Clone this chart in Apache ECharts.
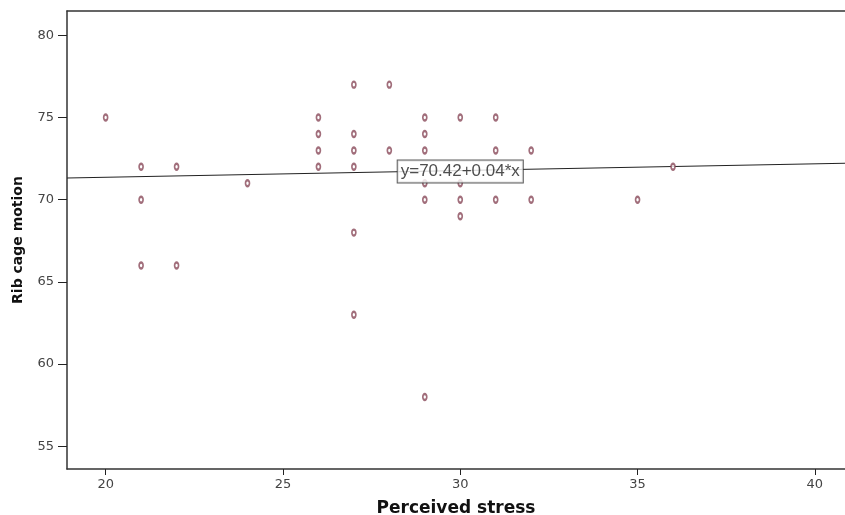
<!DOCTYPE html>
<html>
<head>
<meta charset="utf-8">
<script src="https://cdn.jsdelivr.net/npm/echarts@6/dist/echarts.min.js"></script>
<style>
  html, body { margin: 0; padding: 0; background: #fff; }
  #main { width: 845px; height: 515px; }
</style>
</head>
<body>
<div id="main"></div>
<script>
// data
var stress = [20, 21, 22, 24, 21, 21, 22,
  27, 28,
  26, 29, 30, 31,
  26, 27, 29,
  26, 27, 28, 29, 31, 32,
  26, 27,
  29, 30,
  29, 30, 31, 32,
  30,
  27, 27, 29, 35, 36];
var ribCage = [75, 72, 72, 71, 70, 66, 66,
  77, 77,
  75, 75, 75, 75,
  74, 74, 74,
  73, 73, 73, 73, 73, 73,
  72, 72,
  71, 71,
  70, 70, 70, 70,
  69,
  68, 63, 58, 70, 72];

// fit line, read at left edge and right edge, plus where its label sits
var fitX = [18.91, 40.85];
var fitY = [71.32, 72.22];
var labelAt = [30, 71.72];
var fitLabel = 'y=70.42+0.04*x';

var xTicks = [20, 25, 30, 35, 40];
var yTicks = [55, 60, 65, 70, 75, 80];

var points = [];
for (var i = 0; i < stress.length; i++) {
  points.push([stress[i], ribCage[i]]);
}
var fitData = [];
for (var j = 0; j < fitX.length; j++) {
  fitData.push([fitX[j], fitY[j]]);
}

var chart = echarts.init(document.getElementById('main'));

var option = {
  animation: false,
  backgroundColor: '#fff',
  grid: { left: 67, right: 0, top: 11, bottom: 46, containLabel: false, outerBoundsMode: 'none' },
  xAxis: [{
    type: 'value',
    min: 18.91,
    max: 40.85,
    name: 'Perceived stress',
    nameLocation: 'middle',
    nameGap: 31,
    nameTextStyle: { fontFamily: 'DejaVu Sans', fontWeight: 'bold', fontSize: 17, color: '#111' },
    splitLine: { show: false },
    axisLine: { lineStyle: { color: '#333', width: 1.5 } },
    axisTick: { customValues: xTicks, length: 6, lineStyle: { color: '#222' } },
    axisLabel: { customValues: xTicks, margin: 9, fontFamily: 'DejaVu Sans', fontSize: 13, color: '#444' }
  }, {
    // top frame line
    type: 'value',
    position: 'top',
    min: 18.91,
    max: 40.85,
    splitLine: { show: false },
    axisLine: { show: true, lineStyle: { color: '#333', width: 1.5 } },
    axisTick: { show: false },
    axisLabel: { show: false }
  }],
  yAxis: {
    type: 'value',
    min: 53.62,
    max: 81.48,
    name: 'Rib cage motion',
    nameLocation: 'middle',
    nameGap: 42,
    nameTextStyle: { fontFamily: 'DejaVu Sans', fontWeight: 'bold', fontSize: 14, color: '#111' },
    splitLine: { show: false },
    axisLine: { show: true, lineStyle: { color: '#333', width: 1.5 } },
    axisTick: { show: true, customValues: yTicks, length: 9, lineStyle: { color: '#222' } },
    axisLabel: { customValues: yTicks, margin: 13, fontFamily: 'DejaVu Sans', fontSize: 13, color: '#444' }
  },
  series: [{
    type: 'line',
    data: fitData,
    symbol: 'none',
    lineStyle: { color: '#222', width: 1.2 },
    z: 2
  }, {
    type: 'scatter',
    data: points,
    symbol: 'emptyCircle',
    symbolSize: [4, 6],
    itemStyle: { color: '#8a4a5a', borderWidth: 1 },
    z: 3
  }, {
    // equation box on the line
    type: 'scatter',
    data: [labelAt],
    symbolSize: 0,
    silent: true,
    label: {
      show: true,
      position: 'inside',
      formatter: fitLabel,
      fontFamily: 'Liberation Sans',
      fontSize: 17,
      color: '#222',
      backgroundColor: '#fff',
      borderColor: '#333',
      borderWidth: 1,
      padding: [3, 3, 2, 3]
    },
    z: 4
  }]
};

chart.setOption(option);
</script>
</body>
</html>
